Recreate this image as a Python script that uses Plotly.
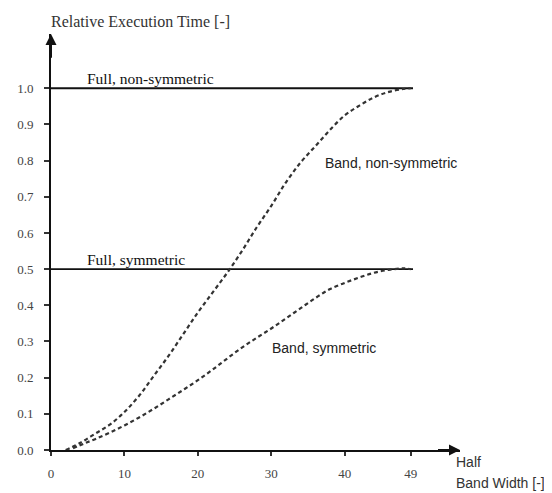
import plotly.graph_objects as go

# Half band width values and relative execution times
band_nonsym_x = [2, 4, 6, 8, 10, 12, 14, 16, 18, 20, 22, 24, 26, 28, 30, 32, 34, 36, 38, 40, 42, 44, 46, 48, 49]
band_nonsym_y = [0.0, 0.02, 0.045, 0.07, 0.105, 0.15, 0.205, 0.26, 0.32, 0.38, 0.435, 0.49, 0.55, 0.615,
                 0.675, 0.74, 0.795, 0.84, 0.885, 0.925, 0.952, 0.975, 0.99, 0.998, 1.0]

band_sym_x = [3, 4.4, 6, 8, 10, 12, 14, 16, 18, 20, 22, 24, 26, 28, 30, 32, 34, 36, 38, 40, 42, 44, 46, 48, 49]
band_sym_y = [0.005, 0.017, 0.03, 0.048, 0.068, 0.09, 0.114, 0.14, 0.166, 0.193, 0.222, 0.253, 0.283, 0.31,
              0.336, 0.364, 0.392, 0.42, 0.445, 0.462, 0.477, 0.49, 0.498, 0.502, 0.5]

full_x = [0, 49.3]
full_nonsym_y = [1.0, 1.0]
full_sym_y = [0.5, 0.5]

x_tickvals = [0, 10, 20, 30, 40, 49]
x_ticktext = ["0", "10", "20", "30", "40", "49"]
y_tickvals = [0.0, 0.1, 0.2, 0.3, 0.4, 0.5, 0.6, 0.7, 0.8, 0.9, 1.0]
y_ticktext = ["0.0", "0.1", "0.2", "0.3", "0.4", "0.5", "0.6", "0.7", "0.8", "0.9", "1.0"]

SERIF = "Liberation Serif"
SANS = "Liberation Sans"

fig = go.Figure()
fig.add_trace(go.Scatter(x=full_x, y=full_nonsym_y, mode="lines",
                         line=dict(color="#111111", width=1.8), hoverinfo="skip"))
fig.add_trace(go.Scatter(x=full_x, y=full_sym_y, mode="lines",
                         line=dict(color="#111111", width=1.8), hoverinfo="skip"))
fig.add_trace(go.Scatter(x=band_nonsym_x, y=band_nonsym_y, mode="lines",
                         line=dict(color="#333333", width=2.2, dash="4px,3px", shape="spline"),
                         hoverinfo="skip"))
fig.add_trace(go.Scatter(x=band_sym_x, y=band_sym_y, mode="lines",
                         line=dict(color="#333333", width=2.2, dash="4px,3px", shape="spline"),
                         hoverinfo="skip"))

full_font = dict(family=SERIF, size=15.5, color="#111111")
band_font = dict(family=SANS, size=14, color="#222222")
title_font = dict(family=SERIF, size=16, color="#333333")
xt_font = dict(family=SANS, size=14, color="#333333")

annotations = [
    dict(x=4.6, y=1.026, text="Full, non-symmetric", xanchor="left", yanchor="middle", font=full_font),
    dict(x=4.6, y=0.527, text="Full, symmetric", xanchor="left", yanchor="middle", font=full_font),
    dict(x=37.1, y=0.793, text="Band, non-symmetric", xanchor="left", yanchor="middle", font=band_font),
    dict(x=29.8, y=0.282, text="Band, symmetric", xanchor="left", yanchor="middle", font=band_font),
]
for a in annotations:
    a.update(xref="x", yref="y", showarrow=False)

annotations += [
    dict(x=-0.005, y=1.029, text="Relative Execution Time [-]", xanchor="left", yanchor="middle",
         font=title_font),
    dict(x=0.985, y=-0.029, text="Half", xanchor="left", yanchor="middle", font=xt_font),
    dict(x=0.985, y=-0.079, text="Band Width [-]", xanchor="left", yanchor="middle", font=xt_font),
]
for a in annotations[4:]:
    a.update(xref="paper", yref="paper", showarrow=False)

# axis arrowheads
annotations.append(dict(x=55.7, y=0, ax=52.5, ay=0, xref="x", yref="y", axref="x", ayref="y",
                        showarrow=True, arrowhead=2, arrowsize=1.1, arrowwidth=2, arrowcolor="#111111", text=""))
annotations.append(dict(x=0, y=1.15, ax=0, ay=1.08, xref="x", yref="y", axref="x", ayref="y",
                        showarrow=True, arrowhead=2, arrowsize=1.1, arrowwidth=2, arrowcolor="#111111", text=""))

# the page body adds an 8px offset, so the figure is sized to fill the remaining window
fig.update_layout(
    width=544, height=485,
    margin=dict(l=43, r=92, t=26, b=43, autoexpand=False),
    paper_bgcolor="white", plot_bgcolor="white",
    showlegend=False,
    annotations=annotations,
    font=dict(family=SERIF, size=13, color="#444444"),
    xaxis=dict(range=[0, 55.7], showgrid=False, zeroline=False, showline=True, linecolor="#111111",
               linewidth=2, ticks="outside", ticklen=4, tickwidth=1.5, tickcolor="#333333",
               tickvals=x_tickvals, ticktext=x_ticktext, ticklabelstandoff=6, automargin=False,
               tickfont=dict(family=SERIF, size=13, color="#444444")),
    yaxis=dict(range=[0, 1.15], showgrid=False, zeroline=False, showline=True, linecolor="#111111",
               linewidth=2, ticks="outside", ticklen=5, tickwidth=1.5, tickcolor="#333333",
               tickvals=y_tickvals, ticktext=y_ticktext, ticklabelstandoff=8, automargin=False,
               tickfont=dict(family=SERIF, size=13, color="#444444")),
)

fig.write_html("out.html")
